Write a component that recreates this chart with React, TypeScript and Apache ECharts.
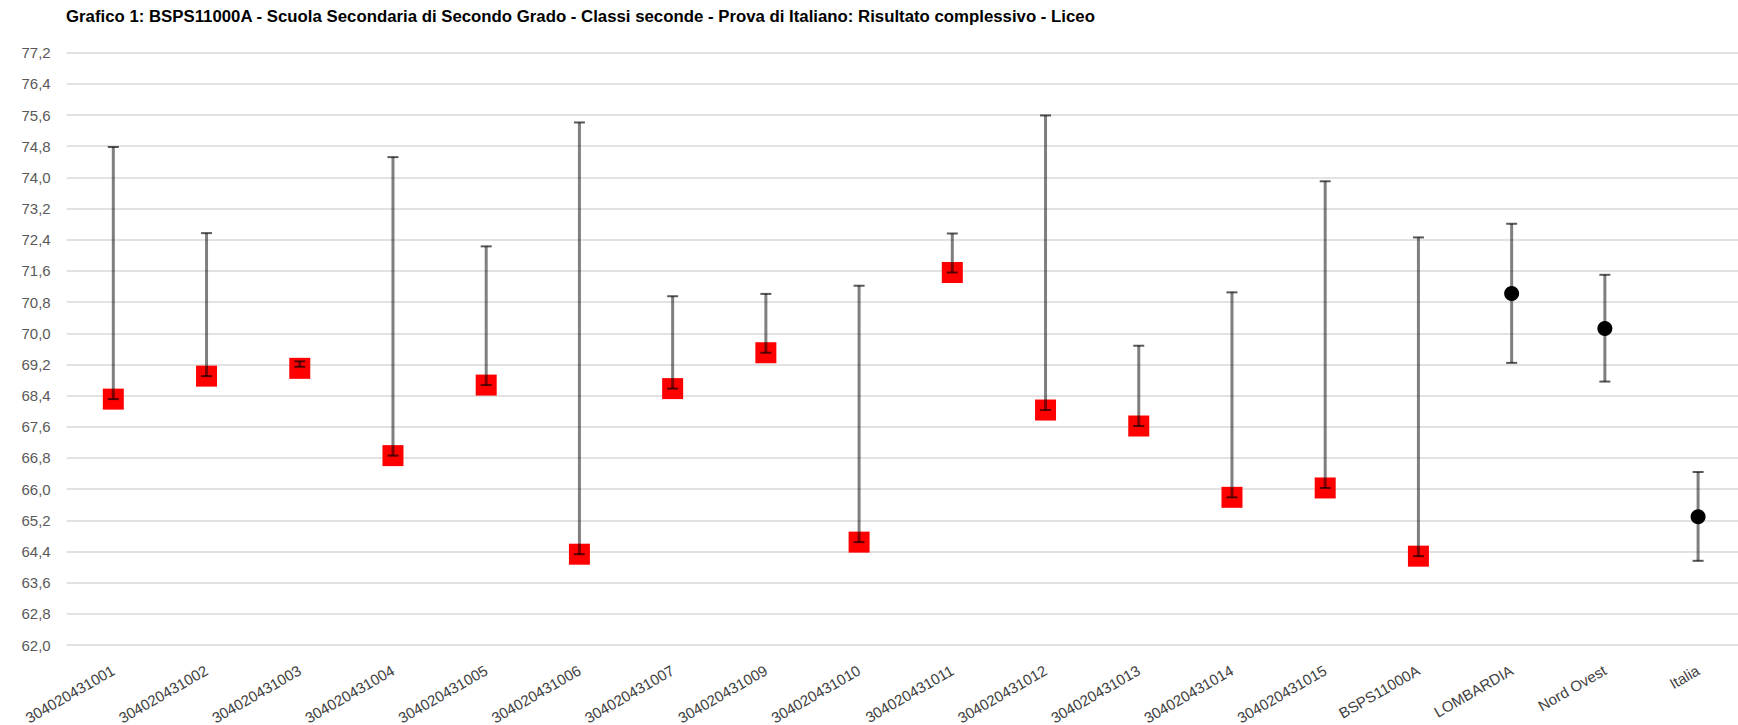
import React, { useEffect, useRef } from "react";
import * as echarts from "echarts";

const titleText =
  "Grafico 1: BSPS11000A - Scuola Secondaria di Secondo Grado - Classi seconde - Prova di Italiano: Risultato complessivo - Liceo";

const categories = [
  "304020431001",
  "304020431002",
  "304020431003",
  "304020431004",
  "304020431005",
  "304020431006",
  "304020431007",
  "304020431009",
  "304020431010",
  "304020431011",
  "304020431012",
  "304020431013",
  "304020431014",
  "304020431015",
  "BSPS11000A",
  "LOMBARDIA",
  "Nord Ovest",
  "Italia",
];

const values = [
  68.31, 68.9, 69.1, 66.86, 68.67, 64.33, 68.58, 69.5, 64.64, 71.56, 68.03,
  67.62, 65.79, 66.03, 64.28, 71.02, 70.12, 65.29,
];

const lowerBounds = [
  68.31, 68.9, 69.14, 66.86, 68.67, 64.33, 68.58, 69.5, 64.64, 71.56, 68.03,
  67.62, 65.79, 66.03, 64.28, 69.24, 68.76, 64.16,
];

const upperBounds = [
  74.78, 72.57, 69.28, 74.52, 72.23, 75.41, 70.95, 71.01, 71.22, 72.56, 75.59,
  69.68, 71.05, 73.9, 72.46, 72.81, 71.5, 66.44,
];

// number of school/class entries drawn as red squares
const squareCount = 15;

const yMin = 62.0;
const yMax = 77.2;
const yStep = 0.8;

export default function App() {
  const ref = useRef<HTMLDivElement>(null);

  useEffect(() => {
    if (!ref.current) return;
    const chart = echarts.init(ref.current, null, { renderer: "svg" });

    const squares = values.map((v, i) => (i < squareCount ? v : "-"));
    const circles = values.map((v, i) => (i >= squareCount ? v : "-"));
    const errData = categories.map((_, i) => [i, lowerBounds[i], upperBounds[i]]);

    chart.setOption({
      animation: false,
      backgroundColor: "#ffffff",
      title: {
        text: titleText,
        left: 66,
        top: 8,
        padding: 0,
        textStyle: {
          fontFamily: "Liberation Sans, Arial, sans-serif",
          fontSize: 16.8,
          fontWeight: "bold",
          color: "#000000",
        },
      },
      grid: {
        left: 66.7,
        right: 15.3,
        top: 52.7,
        bottom: 80,
        containLabel: false,
        outerBoundsMode: "none",
      },
      xAxis: {
        type: "category",
        data: categories,
        boundaryGap: true,
        axisLine: { show: false },
        axisTick: { show: false },
        splitLine: { show: false },
        axisLabel: {
          rotate: 30,
          interval: 0,
          margin: 24,
          fontFamily: "Liberation Sans, Arial, sans-serif",
          fontSize: 15,
          color: "#404040",
        },
      },
      yAxis: {
        type: "value",
        min: yMin,
        max: yMax,
        interval: yStep,
        axisLine: { show: false },
        axisTick: { show: false },
        axisLabel: {
          margin: 16,
          fontFamily: "Liberation Sans, Arial, sans-serif",
          fontSize: 15,
          color: "#595959",
          formatter: (v: number) => v.toFixed(1).replace(".", ","),
        },
        splitLine: { lineStyle: { color: "#d9d9d9", width: 1.5 } },
      },
      series: [
        {
          type: "scatter",
          data: squares,
          symbol: "rect",
          symbolSize: 21,
          itemStyle: { color: "#ff0000", opacity: 1 },
          z: 2,
        },
        {
          type: "scatter",
          data: circles,
          symbol: "circle",
          symbolSize: 15,
          itemStyle: { color: "#000000", opacity: 1 },
          z: 2,
        },
        {
          type: "custom",
          data: errData,
          z: 3,
          renderItem: (params: any, api: any) => {
            const x = api.value(0);
            const lo = api.coord([x, api.value(1)]);
            const hi = api.coord([x, api.value(2)]);
            const half = 5.5;
            return {
              type: "group",
              children: [
                {
                  type: "line",
                  shape: { x1: lo[0], y1: lo[1], x2: hi[0], y2: hi[1] },
                  style: { stroke: "rgba(0,0,0,0.5)", lineWidth: 3 },
                },
                {
                  type: "line",
                  shape: { x1: hi[0] - half, y1: hi[1], x2: hi[0] + half, y2: hi[1] },
                  style: { stroke: "rgba(0,0,0,0.65)", lineWidth: 2 },
                },
                {
                  type: "line",
                  shape: { x1: lo[0] - half, y1: lo[1], x2: lo[0] + half, y2: lo[1] },
                  style: { stroke: "rgba(0,0,0,0.65)", lineWidth: 2 },
                },
              ],
            };
          },
        },
      ],
    });

    return () => chart.dispose();
  }, []);

  return (
    <div
      style={{
        position: "fixed",
        left: 0,
        top: 0,
        width: 1738,
        height: 725,
        overflow: "hidden",
        background: "#fff",
      }}
    >
      <div ref={ref} style={{ width: 1760, height: 725 }} />
    </div>
  );
}
